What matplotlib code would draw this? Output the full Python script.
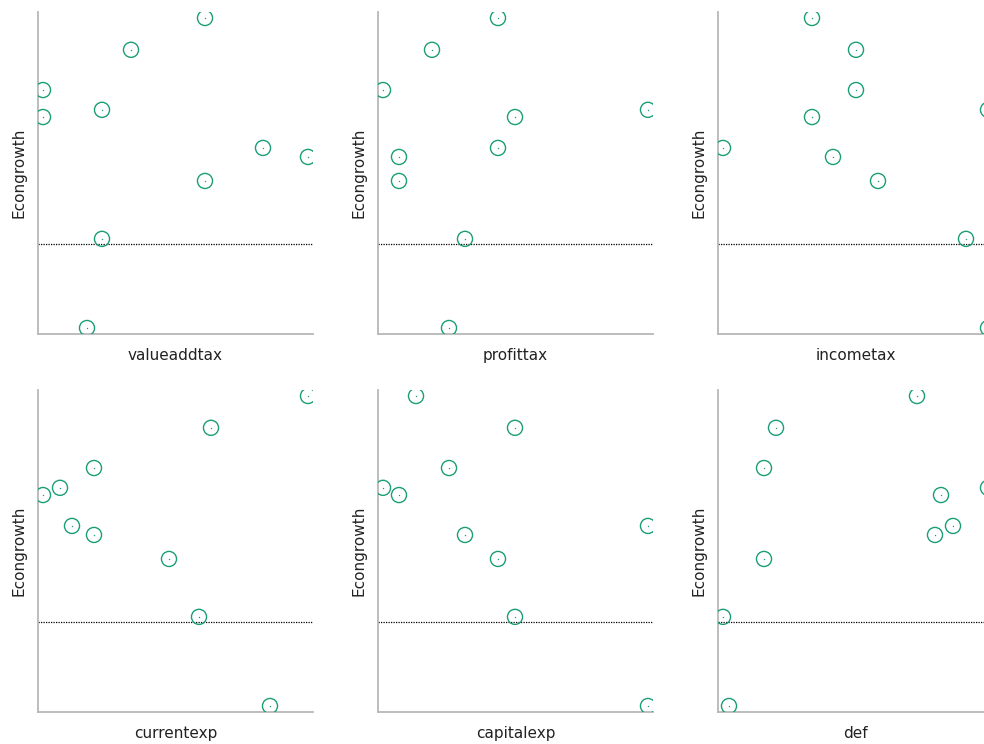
import numpy as np
import matplotlib
matplotlib.use("Agg")
import matplotlib.pyplot as plt

# economic growth, same 10 observations in every panel
econgrowth = [7.53, 6.47, 5.13, 4.47, 4.23, 3.20, 2.90, 2.10, 0.17, -2.80]

valueaddtax = [7.24, 5.76, 4.00, 5.18, 4.00, 8.40, 9.30, 7.24, 5.18, 4.88]
profittax = [3.30, 1.98, 1.00, 6.30, 3.64, 3.30, 1.32, 1.32, 2.64, 2.32]
incometax = [1.39, 1.83, 1.83, 3.15, 1.39, 0.50, 1.60, 2.05, 2.93, 3.15]
currentexp = [15.30, 13.36, 11.02, 10.34, 10.00, 10.58, 11.02, 12.52, 13.12, 14.54]
capitalexp = [2.66, 4.64, 3.32, 2.00, 2.32, 7.30, 3.64, 4.30, 4.64, 7.30]
deficit = [-2.12, -4.94, -5.18, -0.70, -1.64, -1.40, -1.76, -5.18, -6.00, -5.88]

panels = [
    ("valueaddtax", valueaddtax),
    ("profittax", profittax),
    ("incometax", incometax),
    ("currentexp", currentexp),
    ("capitalexp", capitalexp),
    ("def", deficit),
]

W, H = 984, 744
green = "#1b9e77"

fig = plt.figure(figsize=(W / 100, H / 100), dpi=100)
plt.rcParams["font.family"] = ["DejaVu Sans"]

for i, (name, xs) in enumerate(panels):
    r, c = divmod(i, 3)
    left = 38 + 340 * c
    top = 12 + 378 * r
    ax = fig.add_axes([left / W, 1 - (top + 322) / H, 275 / W, 322 / H])

    ax.axhline(0, color="black", lw=0.9, ls=(0, (1, 1)), zorder=1)
    ax.scatter(xs, econgrowth, s=118, facecolors="none", edgecolors=green,
               linewidths=1.0, zorder=3)
    ax.scatter(xs, econgrowth, s=1.0, color=green, zorder=4, linewidths=0)
    ax.margins(x=5 / 265, y=6 / 310)

    ax.set_xticks([])
    ax.set_yticks([])
    for s in ["top", "right"]:
        ax.spines[s].set_visible(False)
    for s in ["left", "bottom"]:
        ax.spines[s].set_color("#b8b8b8")
        ax.spines[s].set_linewidth(1.3)

    ax.set_xlabel(name, fontsize=11, labelpad=10, color="#222222")
    ax.set_ylabel("Econgrowth", fontsize=11, labelpad=8, color="#222222")

fig.savefig("out.png", dpi=100)
